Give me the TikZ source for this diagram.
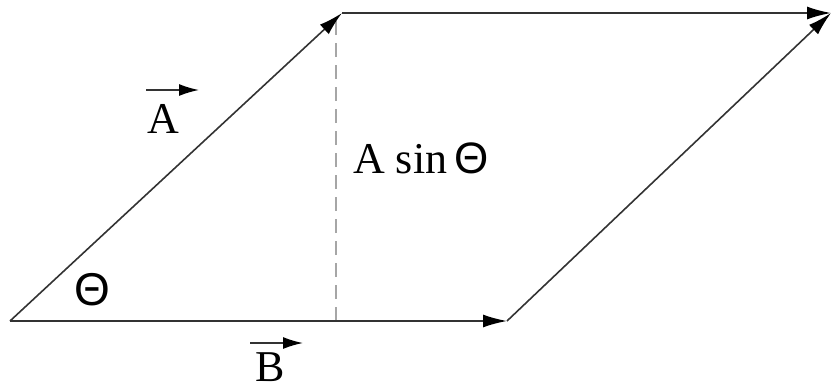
\documentclass[tikz,border=0pt]{standalone}
\usepackage{fontspec}
\setmainfont{Liberation Serif}
\newfontfamily\thfont{Liberation Sans}
\usetikzlibrary{arrows.meta}
\begin{document}
\begin{tikzpicture}[x=1pt,y=-1pt,
  vec/.style={line width=1.6pt,draw=black!80,-{Latex[length=24pt,width=13pt,black]}},
  small/.style={line width=1.6pt,draw=black!80,-{Latex[length=20pt,width=12pt,black]}},
  lbl/.style={font=\fontsize{44}{52}\selectfont,inner sep=0pt}]
\useasboundingbox (0,0) rectangle (831,389);
\coordinate (O) at (10,321);
\coordinate (P) at (342,13);
\coordinate (Q) at (507,321);
\coordinate (R) at (831,13);
\coordinate (F) at (336,321);
\coordinate (Ft) at (336,20);
\draw[line width=1.5pt,black!35,dash pattern=on 14pt off 8pt] (F) -- (Ft);
\draw[vec] (O) -- (P);
\draw[vec] (O) -- (Q);
\draw[vec] (P) -- (R);
\draw[vec] (Q) -- (R);
\node[lbl,anchor=base] (A) at (163,133) {A};
\node[lbl,anchor=base] (B) at (270,381) {B};
\coordinate (a1) at (146,90);
\coordinate (a2) at (199,90);
\coordinate (b1) at (250,343);
\coordinate (b2) at (303,343);
\draw[small] (a1) -- (a2);
\draw[small] (b1) -- (b2);
\node[lbl,anchor=center] (th) at (92,290) {\thfont\fontsize{46}{52}\selectfont Θ};
\node[lbl,anchor=base west] (s) at (353,173) {A sin\,{\thfont Θ}};
\end{tikzpicture}
\end{document}
